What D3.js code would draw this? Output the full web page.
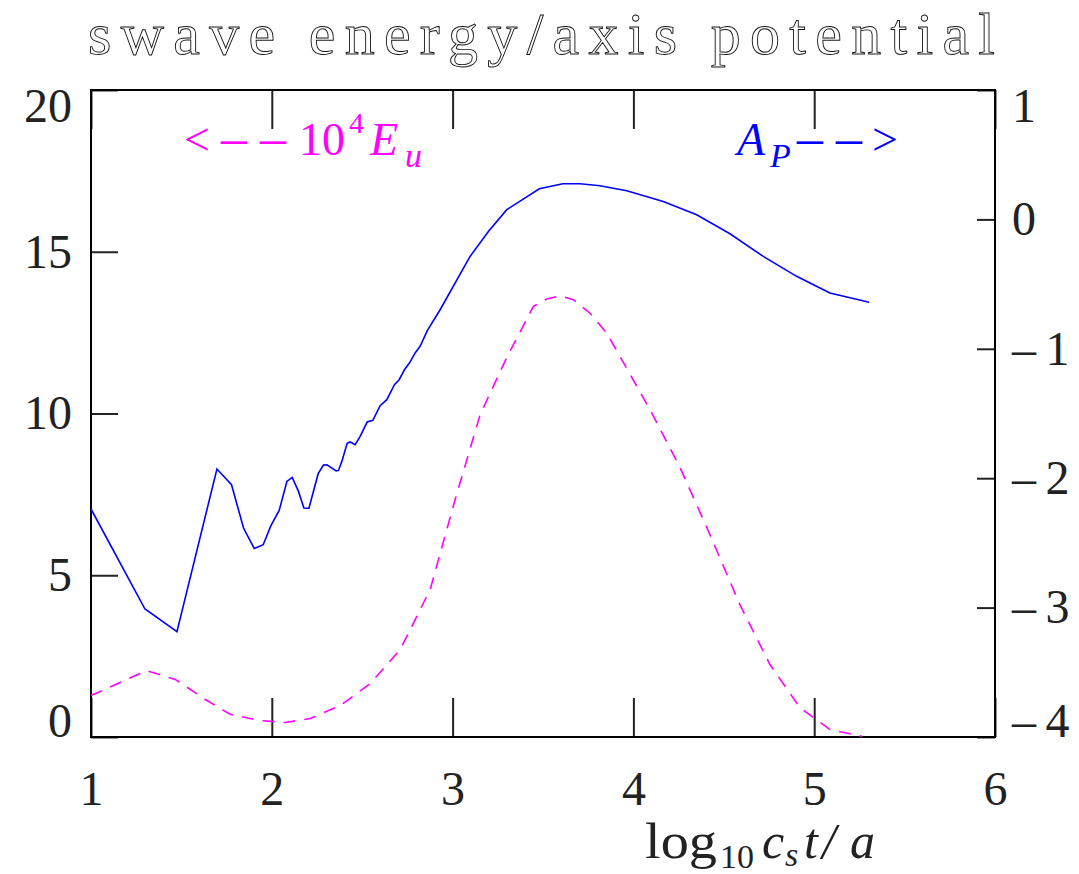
<!DOCTYPE html>
<html lang="en">
    <head>
        <meta charset="UTF-8">
        <script src="https://cdn.jsdelivr.net/npm/d3@7"></script>
        <title>swave energy/axis potential</title>
        <style>
            body {
                margin: 0;
                background: white;
            }
            svg text {
                font-family: "Liberation Serif", "DejaVu Serif", serif;
            }
        </style>
    </head>
    <body>
    <script>
        // x values (log10 cs t/a) and A_P on the right axis
        const apX = [1.000, 1.2985, 1.4754, 1.6965, 1.7772, 1.8436, 1.9027, 1.9525, 1.9950, 2.0409,
            2.0835, 2.1128, 2.1476, 2.1774, 2.2051, 2.2565, 2.2858, 2.3046, 2.3560, 2.3687,
            2.3875, 2.4168, 2.4334, 2.4610, 2.4887, 2.5274, 2.5589, 2.5992, 2.6363, 2.6783,
            2.7043, 2.7336, 2.7612, 2.7927, 2.8203, 2.8607, 2.9309, 3.0967, 3.1979, 3.2996,
            3.4798, 3.6092, 3.7048, 3.8154, 3.9630, 4.1653, 4.3499, 4.5340, 4.7181, 4.9027,
            5.0868, 5.3041];
        const apY = [-2.238, -3.011, -3.186, -1.929, -2.050, -2.385, -2.543, -2.514, -2.367, -2.249,
            -2.025, -1.994, -2.102, -2.230, -2.233, -1.965, -1.898, -1.896, -1.944, -1.940,
            -1.870, -1.731, -1.720, -1.741, -1.677, -1.566, -1.553, -1.440, -1.393, -1.277,
            -1.239, -1.162, -1.110, -1.032, -0.981, -0.858, -0.698, -0.286, -0.093, 0.075,
            0.237, 0.276, 0.276, 0.260, 0.222, 0.139, 0.036, -0.111, -0.286, -0.440,
            -0.569, -0.641];

        // 10^4 E_u on the left axis
        const euX = [1.000, 1.306, 1.466, 1.632, 1.770, 1.936, 2.074, 2.212, 2.378, 2.544,
            2.710, 2.876, 3.014, 3.152, 3.296, 3.355, 3.447, 3.521, 3.594, 3.668,
            3.760, 3.852, 3.926, 4.092, 4.258, 4.423, 4.589, 4.755, 4.921, 5.087, 5.264];
        const euY = [1.28, 2.05, 1.78, 1.16, 0.70, 0.51, 0.45, 0.57, 0.97, 1.65,
            2.70, 4.56, 7.34, 9.96, 11.69, 12.33, 13.31, 13.54, 13.64, 13.52,
            13.10, 12.49, 11.76, 10.12, 8.33, 6.26, 4.09, 2.24, 0.91, 0.23, 0.02];

        const xTicks = [1, 2, 3, 4, 5, 6];
        const leftTicks = [0, 5, 10, 15, 20];
        const rightTicks = [-4, -3, -2, -1, 0, 1];

        const width = 1079, height = 874;
        const box = {left: 91, right: 995, top: 90, bottom: 737};

        const x = d3.scaleLinear().domain([1, 6]).range([box.left, box.right]);
        const yLeft = d3.scaleLinear().domain([0, 20]).range([box.bottom, box.top]);
        const yRight = d3.scaleLinear().domain([-4, 1]).range([box.bottom, box.top]);

        const svg = d3.select("body").append("svg")
            .attr("width", width)
            .attr("height", height);

        //title
        svg.append("text")
            .attr("x", 88)
            .attr("y", 54)
            .attr("font-size", 60)
            .attr("textLength", 907)
            .attr("lengthAdjust", "spacing")
            .attr("fill", "white")
            .attr("stroke", "#111")
            .attr("stroke-width", 0.9)
            .text("swave energy/axis potential");

        //axes, ticks point inward
        const fontSize = 48;
        const fmt = d3.format("d");
        //wide minus with a small gap, as in the original
        const fmtRight = d => d < 0 ? "\u2013\u2009" + Math.abs(d) : fmt(d);
        svg.append("g")
            .attr("transform", `translate(0,${box.bottom})`)
            .call(d3.axisBottom(x).tickValues(xTicks).tickFormat(fmt).tickSize(-39).tickSizeOuter(0).tickPadding(34));
        svg.append("g")
            .attr("transform", `translate(0,${box.top})`)
            .call(d3.axisTop(x).tickValues(xTicks).tickSize(-39).tickSizeOuter(0).tickFormat(""));
        const leftAxis = svg.append("g")
            .attr("transform", `translate(${box.left},0)`)
            .call(d3.axisLeft(yLeft).tickValues(leftTicks).tickFormat(fmt).tickSize(-27).tickSizeOuter(0).tickPadding(19));
        const rightAxis = svg.append("g")
            .attr("transform", `translate(${box.right},0)`)
            .call(d3.axisRight(yRight).tickValues(rightTicks).tickFormat(fmtRight).tickSize(-18).tickSizeOuter(0).tickPadding(17));

        svg.selectAll(".domain").remove();
        svg.selectAll(".tick line").attr("stroke", "#222").attr("stroke-width", 2);
        svg.selectAll(".tick text")
            .attr("font-family", "Liberation Serif, DejaVu Serif, serif")
            .attr("font-size", fontSize)
            .attr("fill", "#222");

        //end labels sit inside the frame
        leftAxis.selectAll(".tick text")
            .attr("y", d => d == 20 ? 16 : d == 0 ? -16 : 0);
        rightAxis.selectAll(".tick text")
            .attr("y", d => d == 1 ? 16 : d == -4 ? -16 : 0);

        //frame
        svg.append("rect")
            .attr("x", box.left)
            .attr("y", box.top)
            .attr("width", box.right - box.left)
            .attr("height", box.bottom - box.top)
            .attr("fill", "none")
            .attr("stroke", "black")
            .attr("stroke-width", 2);

        //lines
        const apLine = d3.line()
            .x((d, i) => x(apX[i]))
            .y(d => yRight(d));
        const euLine = d3.line()
            .x((d, i) => x(euX[i]))
            .y(d => yLeft(d));

        svg.append("path")
            .attr("d", apLine(apY))
            .attr("fill", "none")
            .attr("stroke", "#0000ff")
            .attr("stroke-width", 1.6);

        svg.append("path")
            .attr("d", euLine(euY))
            .attr("fill", "none")
            .attr("stroke", "#ff00ff")
            .attr("stroke-width", 1.6)
            .attr("stroke-dasharray", "12,9");

        //legend labels, en dashes stand in for the wide minus signs
        const dash = (t, xpos) => t.append("tspan")
            .attr("x", xpos)
            .attr("y", 155)
            .attr("font-size", 52)
            .text("\u2013");

        const eu = svg.append("text")
            .attr("font-size", 46)
            .attr("fill", "#ff00ff");
        eu.append("tspan").attr("x", 184).attr("y", 155).text("<");
        dash(eu, 221);
        dash(eu, 260);
        eu.append("tspan").attr("x", 299).attr("y", 155).text("10");
        eu.append("tspan").attr("x", 349).attr("y", 133).attr("font-size", 30).text("4");
        eu.append("tspan").attr("x", 370).attr("y", 155).attr("font-style", "italic").text("E");
        eu.append("tspan").attr("x", 405).attr("y", 167).attr("font-style", "italic").attr("font-size", 34).text("u");

        const ap = svg.append("text")
            .attr("font-size", 46)
            .attr("fill", "#0000ff");
        ap.append("tspan").attr("x", 737).attr("y", 155).attr("font-style", "italic").text("A");
        ap.append("tspan").attr("x", 770).attr("y", 167).attr("font-style", "italic").attr("font-size", 34).text("P");
        dash(ap, 797);
        dash(ap, 836);
        ap.append("tspan").attr("x", 872).attr("y", 155).text(">");

        //x axis title
        const xt = svg.append("text")
            .attr("y", 858)
            .attr("font-size", 50)
            .attr("fill", "#222");
        xt.append("tspan").attr("x", 645)
            .attr("textLength", 72)
            .attr("lengthAdjust", "spacingAndGlyphs")
            .text("log");
        xt.append("tspan").attr("x", 720).attr("font-size", 34).attr("dy", 10).text("10");
        xt.append("tspan").attr("x", 762).attr("font-style", "italic").attr("dy", -10).text("c");
        xt.append("tspan").attr("x", 785).attr("font-style", "italic").attr("font-size", 34).attr("dy", 8).text("s");
        xt.append("tspan").attr("x", 804).attr("font-style", "italic").attr("dy", -8).text("t");
        xt.append("tspan").attr("x", 822).attr("font-style", "italic").text("/");
        xt.append("tspan").attr("x", 850).attr("font-style", "italic").text("a");
    </script>
    </body>
</html>
